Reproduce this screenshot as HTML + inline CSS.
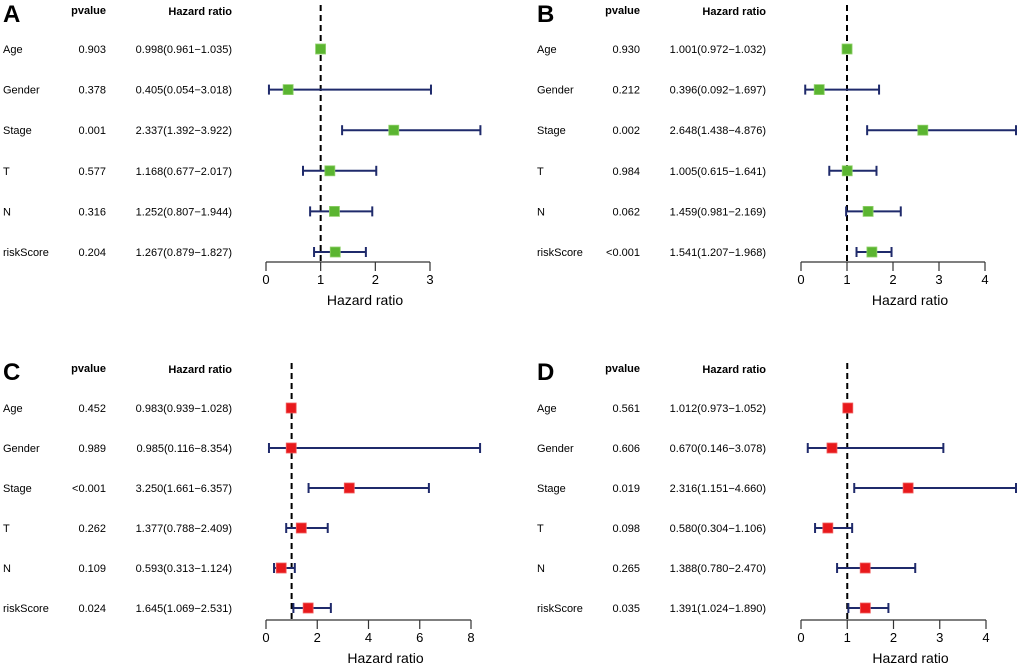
<!DOCTYPE html>
<html><head><meta charset="utf-8"><style>
html,body{margin:0;padding:0;background:#fff;width:1020px;height:668px;overflow:hidden}
svg{display:block;font-family:"Liberation Sans",Arial,sans-serif}
</style></head><body>
<svg id="chart" width="1020" height="668" viewBox="0 0 1020 668"></svg>
<script>
const variables = ["Age","Gender","Stage","T","N","riskScore"];
const pvalA = ["0.903","0.378","0.001","0.577","0.316","0.204"];
const hrA = [0.998,0.405,2.337,1.168,1.252,1.267];
const loA = [0.961,0.054,1.392,0.677,0.807,0.879];
const hiA = [1.035,3.018,3.922,2.017,1.944,1.827];
const pvalB = ["0.930","0.212","0.002","0.984","0.062","<0.001"];
const hrB = [1.001,0.396,2.648,1.005,1.459,1.541];
const loB = [0.972,0.092,1.438,0.615,0.981,1.207];
const hiB = [1.032,1.697,4.876,1.641,2.169,1.968];
const pvalC = ["0.452","0.989","<0.001","0.262","0.109","0.024"];
const hrC = [0.983,0.985,3.250,1.377,0.593,1.645];
const loC = [0.939,0.116,1.661,0.788,0.313,1.069];
const hiC = [1.028,8.354,6.357,2.409,1.124,2.531];
const pvalD = ["0.561","0.606","0.019","0.098","0.265","0.035"];
const hrD = [1.012,0.670,2.316,0.580,1.388,1.391];
const loD = [0.973,0.146,1.151,0.304,0.780,1.024];
const hiD = [1.052,3.078,4.660,1.106,2.470,1.890];
const ticksA = [0,1,2,3];
const ticksB = [0,1,2,3,4];
const ticksC = [0,2,4,6,8];
const ticksD = [0,1,2,3,4];

const NS="http://www.w3.org/2000/svg";
const svg=document.getElementById('chart');
function mk(tag,attrs,parent,text){const e=document.createElementNS(NS,tag);for(const k in attrs)e.setAttribute(k,attrs[k]);if(text!==undefined)e.textContent=text;parent.appendChild(e);return e;}
function fmt(v){return v.toFixed(3);}

const panels=[
 {id:'a',letter:'A',ox:0,oy:0,axisY:262,rowY0:49,rowStep:40.6,x0:266,x1:430,tmax:3,pv:pvalA,hr:hrA,lo:loA,hi:hiA,ticks:ticksA,color:'#5bb531',stroke:'#8fd06a'},
 {id:'b',letter:'B',ox:534,oy:0,axisY:262,rowY0:49,rowStep:40.6,x0:801,x1:985,tmax:4,pv:pvalB,hr:hrB,lo:loB,hi:hiB,ticks:ticksB,color:'#5bb531',stroke:'#8fd06a'},
 {id:'c',letter:'C',ox:0,oy:358,axisY:620,rowY0:408,rowStep:40,x0:266,x1:471,tmax:8,pv:pvalC,hr:hrC,lo:loC,hi:hiC,ticks:ticksC,color:'#e8191c',stroke:'#f06060'},
 {id:'d',letter:'D',ox:534,oy:358,axisY:620,rowY0:408,rowStep:40,x0:801,x1:986,tmax:4,pv:pvalD,hr:hrD,lo:loD,hi:hiD,ticks:ticksD,color:'#e8191c',stroke:'#f06060'}
];

panels.forEach(p=>{
 const g=mk('g',{},svg);
 
 
 const xs=v=>Math.min(1016,p.x0+(p.x1-p.x0)*v/p.tmax);
 const lt=mk('text',{x:p.ox+3,y:p.oy+22,'font-size':24,'font-weight':'bold',fill:'#000'},g,p.letter);
 
 
 const h1=mk('text',{x:p.ox+106,y:p.oy+14,'font-size':11,'font-weight':'bold','text-anchor':'end'},g,'pvalue');
 
 
 const h2=mk('text',{x:p.ox+232,y:p.oy+15,'font-size':11,'font-weight':'bold','text-anchor':'end'},g,'Hazard ratio');
 
 
 const ref=mk('line',{x1:xs(1),x2:xs(1),y1:p.oy+5,y2:p.axisY,stroke:'#000','stroke-width':2,'stroke-dasharray':'6,4'},g);
 
 
 variables.forEach((v,i)=>{
  const y=p.rowY0+i*p.rowStep;
  const t1=mk('text',{x:p.ox+3,y:y+4,'font-size':11},g,v);
  
  
  const t2=mk('text',{x:p.ox+106,y:y+4,'font-size':11,'text-anchor':'end'},g,p.pv[i]);
  
  
  const t3=mk('text',{x:p.ox+232,y:y+4,'font-size':11,'text-anchor':'end'},g,fmt(p.hr[i])+'('+fmt(p.lo[i])+'\u2212'+fmt(p.hi[i])+')');
  
  
  const eb=mk('g',{stroke:'#1f2a6b','stroke-width':2},g);
  
  
  mk('line',{x1:xs(p.lo[i]),x2:xs(p.hi[i]),y1:y,y2:y},eb);
  mk('line',{x1:xs(p.lo[i]),x2:xs(p.lo[i]),y1:y-5,y2:y+5},eb);
  mk('line',{x1:xs(p.hi[i]),x2:xs(p.hi[i]),y1:y-5,y2:y+5},eb);
  const pt=mk('rect',{x:xs(p.hr[i])-5,y:y-5,width:10,height:10,fill:p.color,stroke:p.stroke,'stroke-width':0.8},g);
  
  
 });
 const ax=mk('g',{stroke:'#333','stroke-width':1.2},g);
 
 
 mk('line',{x1:xs(p.ticks[0]),x2:xs(p.ticks[p.ticks.length-1]),y1:p.axisY,y2:p.axisY},ax);
 p.ticks.forEach(t=>{
  mk('line',{x1:xs(t),x2:xs(t),y1:p.axisY,y2:p.axisY+9},ax);
  const tl=mk('text',{x:xs(t),y:p.axisY+22,'font-size':13,'text-anchor':'middle',stroke:'none',fill:'#000'},g,String(t));
  
  
 });
 const xt=mk('text',{x:(xs(p.ticks[0])+xs(p.ticks[p.ticks.length-1]))/2+17,y:p.axisY+43,'font-size':14,'text-anchor':'middle'},g,'Hazard ratio');
 
 
});
</script>
</body></html>
